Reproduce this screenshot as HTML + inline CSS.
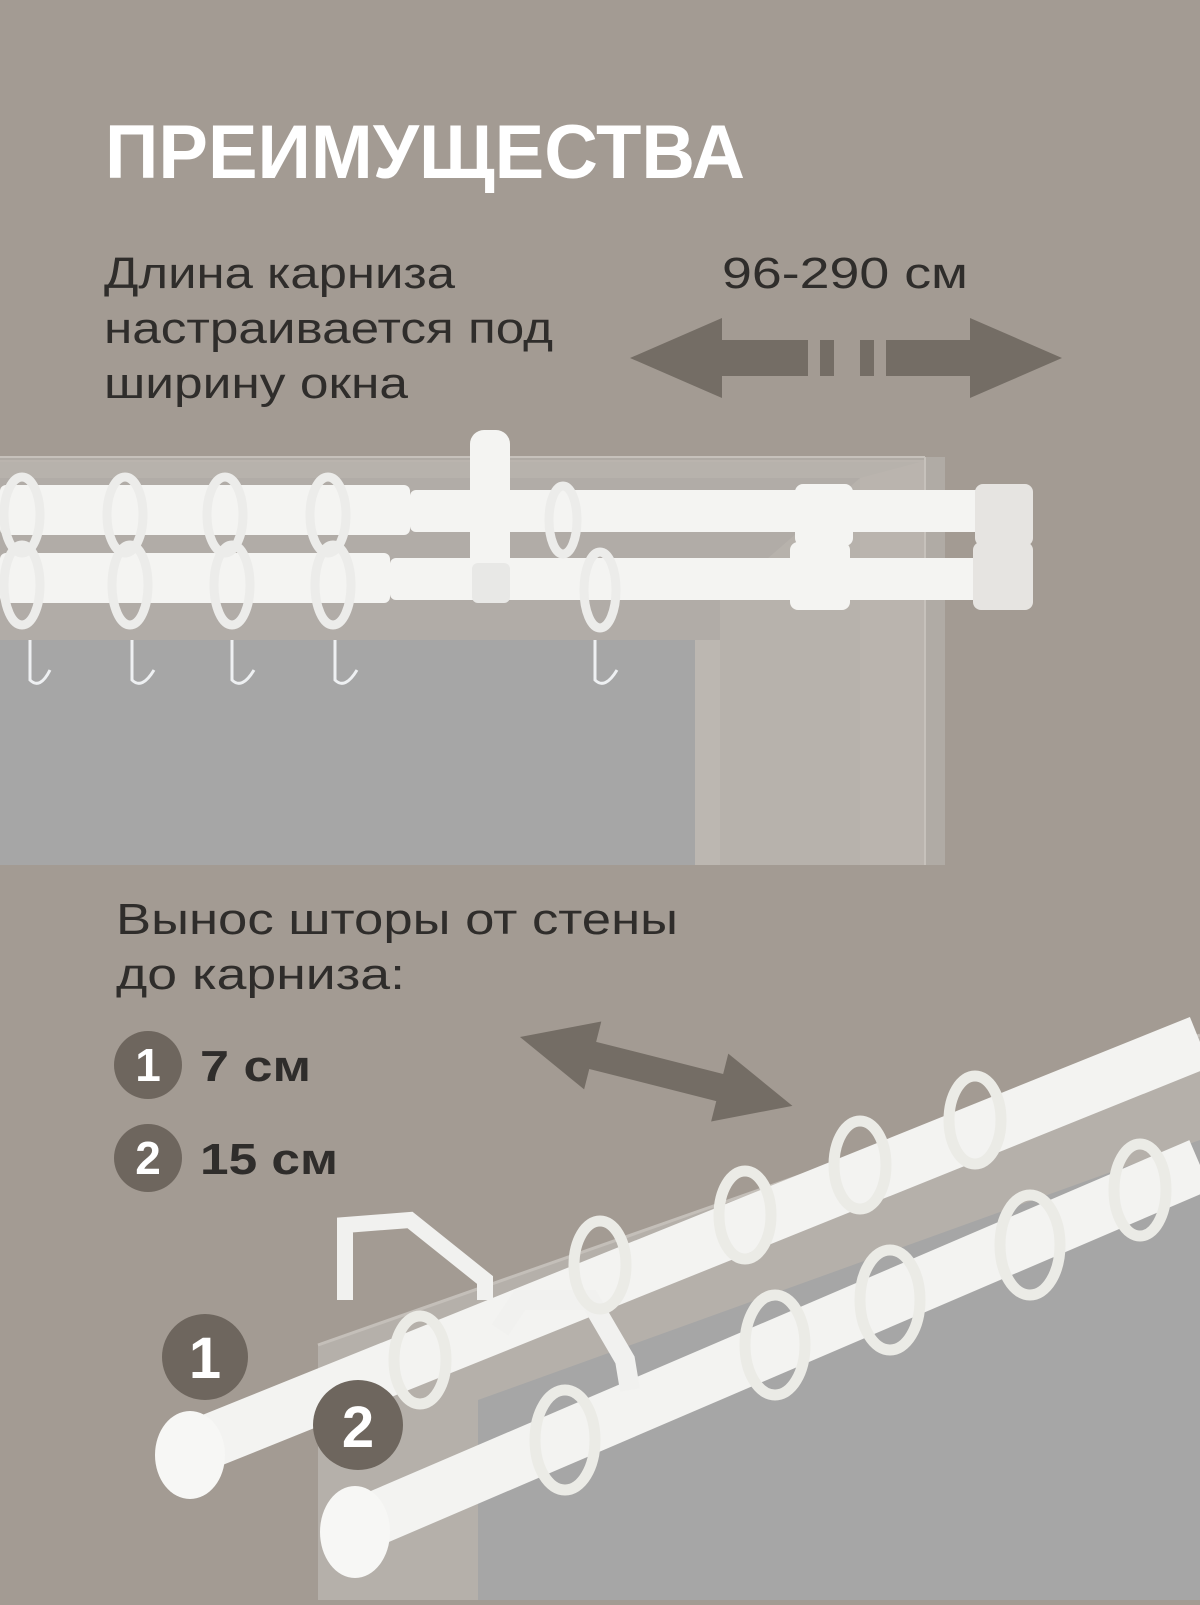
<!DOCTYPE html>
<html><head><meta charset="utf-8"><style>
body{margin:0;width:1200px;height:1600px;overflow:hidden;background:#a39b93;font-family:"Liberation Sans",sans-serif}
</style></head><body>
<svg width="1200" height="1600" viewBox="0 0 1200 1600" xmlns="http://www.w3.org/2000/svg">
<rect width="1200" height="1600" fill="#a39b93"/>
<!-- top window -->
<rect x="0" y="457" width="945" height="408" fill="#b0aba5"/>
<rect x="0" y="460" width="925" height="405" fill="#bab4ae"/>
<polygon points="0,462 920,462 860,478 860,865 0,865" fill="#b7b2ac"/>
<polygon points="0,478 860,478 720,600 720,865 0,865" fill="#b1aca7"/>
<rect x="0" y="640" width="695" height="225" fill="#a6a6a6"/>
<rect x="695" y="640" width="25" height="225" fill="#bcb7b1"/>
<line x1="925" y1="457" x2="925" y2="865" stroke="#c6c1bb" stroke-width="2"/>
<line x1="0" y1="457" x2="925" y2="457" stroke="#c6c1bb" stroke-width="2"/>
<!-- top rods -->
<g fill="#f4f4f2">
<rect x="0" y="485" width="410" height="50" rx="6"/>
<rect x="410" y="490" width="590" height="42" rx="6"/>
<rect x="0" y="553" width="390" height="50" rx="6"/>
<rect x="390" y="558" width="600" height="42" rx="6"/>
<rect x="470" y="430" width="40" height="165" rx="14"/>
<rect x="472" y="563" width="38" height="40" rx="6" fill="#e8e8e6"/>
<rect x="795" y="484" width="58" height="62" rx="8"/>
<rect x="975" y="484" width="58" height="62" rx="8" fill="#e6e4e1"/>
<rect x="790" y="542" width="60" height="68" rx="8"/>
<rect x="973" y="542" width="60" height="68" rx="8" fill="#e6e4e1"/>
</g>
<g fill="none" stroke="#ececea" stroke-width="9">
<ellipse cx="22" cy="515" rx="18" ry="38"/><ellipse cx="125" cy="515" rx="18" ry="38"/><ellipse cx="225" cy="515" rx="18" ry="38"/><ellipse cx="328" cy="515" rx="18" ry="38"/><ellipse cx="563" cy="520" rx="14" ry="34"/>
<ellipse cx="22" cy="585" rx="18" ry="40"/><ellipse cx="130" cy="585" rx="18" ry="40"/><ellipse cx="232" cy="585" rx="18" ry="40"/><ellipse cx="333" cy="585" rx="18" ry="40"/><ellipse cx="600" cy="590" rx="16" ry="38"/>
</g>
<g fill="none" stroke="#eef0f2" stroke-width="3">
<path d="M30 640 v40 q10 10 20 -10"/><path d="M132 640 v40 q10 10 22 -10"/><path d="M232 640 v40 q10 10 22 -10"/><path d="M335 640 v40 q10 10 22 -10"/><path d="M595 640 v40 q10 10 22 -10"/>
</g>
<!-- text top -->
<text x="105" y="178" font-size="76" font-weight="bold" fill="#ffffff" textLength="640" lengthAdjust="spacingAndGlyphs">ПРЕИМУЩЕСТВА</text>
<g font-size="44" fill="#2f2d2b">
<text x="104" y="288" textLength="351" lengthAdjust="spacingAndGlyphs">Длина карниза</text>
<text x="104" y="343" textLength="449" lengthAdjust="spacingAndGlyphs">настраивается под</text>
<text x="104" y="398" textLength="304" lengthAdjust="spacingAndGlyphs">ширину окна</text>
<text x="722" y="288" textLength="246" lengthAdjust="spacingAndGlyphs">96-290 см</text>
</g>
<g fill="#746d65">
<polygon points="630,358 722,318 722,340 808,340 808,376 722,376 722,398"/>
<rect x="820" y="340" width="14" height="36"/>
<rect x="860" y="340" width="14" height="36"/>
<polygon points="1062,358 970,318 970,340 886,340 886,376 970,376 970,398"/>
</g>
<!-- bottom -->
<polygon points="318,1345 1200,1035 1200,1600 318,1600" fill="#b5b0aa"/>
<polygon points="478,1400 1200,1140 1200,1600 478,1600" fill="#a6a6a6"/>
<line x1="318" y1="1345" x2="1200" y2="1035" stroke="#c4bfb9" stroke-width="3"/>
<g font-size="44" fill="#2f2d2b">
<text x="116" y="934" textLength="562" lengthAdjust="spacingAndGlyphs">Вынос шторы от стены</text>
<text x="116" y="989" textLength="289" lengthAdjust="spacingAndGlyphs">до карниза:</text>
<text x="200" y="1081" font-weight="bold" textLength="111" lengthAdjust="spacingAndGlyphs">7 см</text>
<text x="200" y="1174" font-weight="bold" textLength="138" lengthAdjust="spacingAndGlyphs">15 см</text>
</g>
<g fill="#6e665e">
<circle cx="148" cy="1065" r="34"/><circle cx="148" cy="1158" r="34"/>
</g>
<g fill="#fff" font-weight="bold" text-anchor="middle">
<text x="148" y="1081" font-size="46">1</text><text x="148" y="1174" font-size="46">2</text>
</g>
<g transform="translate(520,1037) rotate(14.2)">
<polygon points="0,0 75,-35 75,-14 206,-14 206,-35 281,0 206,35 206,14 75,14 75,35" fill="#746d65"/>
</g>
<!-- bottom rods -->
<g stroke="#f3f3f1" stroke-linecap="butt">
<line x1="200" y1="1445" x2="1200" y2="1042" stroke-width="54"/>
<line x1="360" y1="1525" x2="1200" y2="1165" stroke-width="54"/>
</g>
<ellipse cx="190" cy="1455" rx="35" ry="44" fill="#f7f7f5"/>
<ellipse cx="355" cy="1532" rx="35" ry="46" fill="#f7f7f5"/>
<path d="M345 1300 L345 1225 L410 1220 L485 1280 L485 1300" fill="none" stroke="#f1f1ef" stroke-width="16"/>
<path d="M500 1330 L520 1300 L590 1300 L625 1360 L630 1390" fill="none" stroke="#f1f1ef" stroke-width="20"/>
<g fill="none" stroke="#ebebe6" stroke-width="11">
<ellipse cx="420" cy="1360" rx="26" ry="44"/><ellipse cx="600" cy="1265" rx="26" ry="44"/><ellipse cx="745" cy="1215" rx="26" ry="44"/><ellipse cx="860" cy="1165" rx="26" ry="44"/><ellipse cx="975" cy="1120" rx="26" ry="44"/>
<ellipse cx="565" cy="1440" rx="30" ry="50"/><ellipse cx="775" cy="1345" rx="30" ry="50"/><ellipse cx="890" cy="1300" rx="30" ry="50"/><ellipse cx="1030" cy="1245" rx="30" ry="50"/><ellipse cx="1140" cy="1190" rx="26" ry="46"/>
</g>
<g fill="#6e665e">
<circle cx="205" cy="1357" r="43"/><circle cx="358" cy="1425" r="45"/>
</g>
<g fill="#fff" font-weight="bold" text-anchor="middle">
<text x="205" y="1378" font-size="58">1</text><text x="358" y="1447" font-size="58">2</text>
</g>
</svg>
</body></html>
